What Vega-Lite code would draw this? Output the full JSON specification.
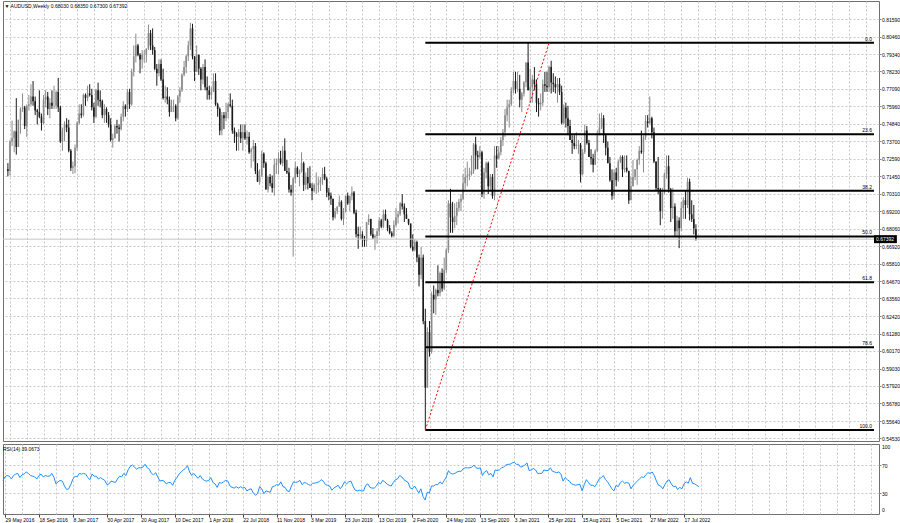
{
"$schema": "https://vega.github.io/schema/vega-lite/v6.json",
"padding": 0,
"background": "white",
"spacing": 1,
"config": {
 "view": {"stroke": "#707070", "strokeWidth": 1},
 "font": "Liberation Sans",
 "axis": {"labelFont": "Liberation Sans", "labelFontSize": 5, "labelColor": "#000000", "gridColor": "#c8c8c8", "gridDash": [2, 2], "gridWidth": 1, "domain": false, "tickColor": "#808080", "tickSize": 2, "labelPadding": 1, "labelOverlap": false, "labelFlush": false, "tickCount": 500},
 "title": {"font": "Liberation Sans", "fontSize": 5, "fontWeight": "normal", "color": "#000000"}
},
"datasets": {
 "bars": [
{"w":-1,"o":0.7190,"h":0.7230,"l":0.7145,"c":0.7180,"r":48},
{"w":0,"o":0.7180,"h":0.7380,"l":0.7150,"c":0.7370,"r":53},
{"w":1,"o":0.7370,"h":0.7505,"l":0.7340,"c":0.7390,"r":55},
{"w":2,"o":0.7390,"h":0.7440,"l":0.7300,"c":0.7435,"r":54},
{"w":3,"o":0.7435,"h":0.7650,"l":0.7285,"c":0.7335,"r":50},
{"w":4,"o":0.7335,"h":0.7510,"l":0.7335,"c":0.7510,"r":55},
{"w":5,"o":0.7510,"h":0.7590,"l":0.7420,"c":0.7580,"r":57},
{"w":6,"o":0.7580,"h":0.7680,"l":0.7560,"c":0.7590,"r":58},
{"w":7,"o":0.7590,"h":0.7600,"l":0.7450,"c":0.7470,"r":52},
{"w":8,"o":0.7470,"h":0.7610,"l":0.7400,"c":0.7600,"r":56},
{"w":9,"o":0.7600,"h":0.7670,"l":0.7570,"c":0.7610,"r":57},
{"w":10,"o":0.7610,"h":0.7740,"l":0.7600,"c":0.7660,"r":60},
{"w":11,"o":0.7660,"h":0.7760,"l":0.7600,"c":0.7630,"r":58},
{"w":12,"o":0.7630,"h":0.7660,"l":0.7540,"c":0.7570,"r":55},
{"w":13,"o":0.7570,"h":0.7580,"l":0.7480,"c":0.7560,"r":54},
{"w":14,"o":0.7560,"h":0.7700,"l":0.7520,"c":0.7530,"r":53},
{"w":15,"o":0.7530,"h":0.7550,"l":0.7440,"c":0.7490,"r":50},
{"w":16,"o":0.7490,"h":0.7670,"l":0.7480,"c":0.7640,"r":55},
{"w":17,"o":0.7640,"h":0.7700,"l":0.7590,"c":0.7660,"r":57},
{"w":18,"o":0.7660,"h":0.7690,"l":0.7540,"c":0.7580,"r":53},
{"w":19,"o":0.7580,"h":0.7650,"l":0.7520,"c":0.7620,"r":55},
{"w":20,"o":0.7620,"h":0.7700,"l":0.7580,"c":0.7600,"r":54},
{"w":21,"o":0.7600,"h":0.7730,"l":0.7580,"c":0.7600,"r":54},
{"w":22,"o":0.7600,"h":0.7700,"l":0.7580,"c":0.7690,"r":58},
{"w":23,"o":0.7690,"h":0.7780,"l":0.7560,"c":0.7590,"r":53},
{"w":24,"o":0.7590,"h":0.7600,"l":0.7360,"c":0.7370,"r":43},
{"w":25,"o":0.7370,"h":0.7460,"l":0.7310,"c":0.7440,"r":46},
{"w":26,"o":0.7440,"h":0.7500,"l":0.7370,"c":0.7480,"r":48},
{"w":27,"o":0.7480,"h":0.7520,"l":0.7430,"c":0.7460,"r":47},
{"w":28,"o":0.7460,"h":0.7510,"l":0.7300,"c":0.7310,"r":40},
{"w":29,"o":0.7310,"h":0.7320,"l":0.7180,"c":0.7200,"r":35},
{"w":30,"o":0.7200,"h":0.7240,"l":0.7160,"c":0.7210,"r":36},
{"w":31,"o":0.7210,"h":0.7350,"l":0.7165,"c":0.7330,"r":42},
{"w":32,"o":0.7330,"h":0.7500,"l":0.7310,"c":0.7490,"r":50},
{"w":33,"o":0.7490,"h":0.7610,"l":0.7480,"c":0.7550,"r":54},
{"w":34,"o":0.7550,"h":0.7610,"l":0.7520,"c":0.7540,"r":53},
{"w":35,"o":0.7540,"h":0.7680,"l":0.7530,"c":0.7670,"r":58},
{"w":36,"o":0.7670,"h":0.7680,"l":0.7600,"c":0.7650,"r":57},
{"w":37,"o":0.7650,"h":0.7730,"l":0.7630,"c":0.7680,"r":58},
{"w":38,"o":0.7680,"h":0.7740,"l":0.7660,"c":0.7670,"r":57},
{"w":39,"o":0.7670,"h":0.7710,"l":0.7570,"c":0.7590,"r":52},
{"w":40,"o":0.7590,"h":0.7620,"l":0.7490,"c":0.7530,"r":49},
{"w":41,"o":0.7530,"h":0.7710,"l":0.7520,"c":0.7700,"r":57},
{"w":42,"o":0.7700,"h":0.7750,"l":0.7600,"c":0.7640,"r":54},
{"w":43,"o":0.7640,"h":0.7700,"l":0.7590,"c":0.7630,"r":54},
{"w":44,"o":0.7630,"h":0.7640,"l":0.7520,"c":0.7540,"r":50},
{"w":45,"o":0.7540,"h":0.7610,"l":0.7490,"c":0.7580,"r":52},
{"w":46,"o":0.7580,"h":0.7590,"l":0.7490,"c":0.7540,"r":50},
{"w":47,"o":0.7540,"h":0.7560,"l":0.7460,"c":0.7480,"r":48},
{"w":48,"o":0.7480,"h":0.7520,"l":0.7370,"c":0.7380,"r":42},
{"w":49,"o":0.7380,"h":0.7420,"l":0.7330,"c":0.7390,"r":43},
{"w":50,"o":0.7390,"h":0.7480,"l":0.7390,"c":0.7470,"r":47},
{"w":51,"o":0.7470,"h":0.7510,"l":0.7420,"c":0.7460,"r":46},
{"w":52,"o":0.7460,"h":0.7480,"l":0.7370,"c":0.7450,"r":45},
{"w":53,"o":0.7450,"h":0.7550,"l":0.7440,"c":0.7530,"r":50},
{"w":54,"o":0.7530,"h":0.7630,"l":0.7500,"c":0.7600,"r":54},
{"w":55,"o":0.7600,"h":0.7610,"l":0.7530,"c":0.7580,"r":53},
{"w":56,"o":0.7580,"h":0.7710,"l":0.7560,"c":0.7690,"r":58},
{"w":57,"o":0.7690,"h":0.7710,"l":0.7580,"c":0.7610,"r":55},
{"w":58,"o":0.7610,"h":0.7840,"l":0.7600,"c":0.7820,"r":63},
{"w":59,"o":0.7820,"h":0.7990,"l":0.7790,"c":0.7920,"r":68},
{"w":60,"o":0.7920,"h":0.8066,"l":0.7880,"c":0.7990,"r":70},
{"w":61,"o":0.7990,"h":0.8000,"l":0.7920,"c":0.7930,"r":67},
{"w":62,"o":0.7930,"h":0.7940,"l":0.7810,"c":0.7900,"r":64},
{"w":63,"o":0.7900,"h":0.7960,"l":0.7840,"c":0.7930,"r":66},
{"w":64,"o":0.7930,"h":0.7960,"l":0.7880,"c":0.7930,"r":66},
{"w":65,"o":0.7930,"h":0.7970,"l":0.7880,"c":0.7970,"r":67},
{"w":66,"o":0.7970,"h":0.8125,"l":0.7960,"c":0.8070,"r":71},
{"w":67,"o":0.8070,"h":0.8090,"l":0.7960,"c":0.7990,"r":66},
{"w":68,"o":0.7990,"h":0.8100,"l":0.7930,"c":0.7960,"r":64},
{"w":69,"o":0.7960,"h":0.7980,"l":0.7830,"c":0.7840,"r":58},
{"w":70,"o":0.7840,"h":0.7870,"l":0.7730,"c":0.7810,"r":56},
{"w":71,"o":0.7810,"h":0.7900,"l":0.7790,"c":0.7870,"r":59},
{"w":72,"o":0.7870,"h":0.7900,"l":0.7760,"c":0.7770,"r":53},
{"w":73,"o":0.7770,"h":0.7840,"l":0.7640,"c":0.7650,"r":47},
{"w":74,"o":0.7650,"h":0.7730,"l":0.7620,"c":0.7660,"r":48},
{"w":75,"o":0.7660,"h":0.7720,"l":0.7610,"c":0.7640,"r":47},
{"w":76,"o":0.7640,"h":0.7660,"l":0.7530,"c":0.7560,"r":43},
{"w":77,"o":0.7560,"h":0.7640,"l":0.7560,"c":0.7600,"r":45},
{"w":78,"o":0.7600,"h":0.7640,"l":0.7560,"c":0.7600,"r":45},
{"w":79,"o":0.7600,"h":0.7610,"l":0.7500,"c":0.7520,"r":41},
{"w":80,"o":0.7520,"h":0.7670,"l":0.7510,"c":0.7660,"r":48},
{"w":81,"o":0.7660,"h":0.7720,"l":0.7620,"c":0.7700,"r":52},
{"w":82,"o":0.7700,"h":0.7810,"l":0.7690,"c":0.7800,"r":57},
{"w":83,"o":0.7800,"h":0.7890,"l":0.7790,"c":0.7850,"r":60},
{"w":84,"o":0.7850,"h":0.7930,"l":0.7810,"c":0.7920,"r":63},
{"w":85,"o":0.7920,"h":0.8020,"l":0.7890,"c":0.7990,"r":65},
{"w":86,"o":0.7990,"h":0.8136,"l":0.7960,"c":0.8100,"r":69},
{"w":87,"o":0.8100,"h":0.8130,"l":0.7900,"c":0.7920,"r":60},
{"w":88,"o":0.7920,"h":0.7920,"l":0.7760,"c":0.7820,"r":55},
{"w":89,"o":0.7820,"h":0.7990,"l":0.7820,"c":0.7930,"r":58},
{"w":90,"o":0.7930,"h":0.7930,"l":0.7800,"c":0.7840,"r":54},
{"w":91,"o":0.7840,"h":0.7850,"l":0.7700,"c":0.7770,"r":51},
{"w":92,"o":0.7770,"h":0.7870,"l":0.7740,"c":0.7850,"r":55},
{"w":93,"o":0.7850,"h":0.7900,"l":0.7700,"c":0.7720,"r":50},
{"w":94,"o":0.7720,"h":0.7790,"l":0.7640,"c":0.7700,"r":48},
{"w":95,"o":0.7700,"h":0.7730,"l":0.7640,"c":0.7670,"r":47},
{"w":96,"o":0.7670,"h":0.7720,"l":0.7640,"c":0.7690,"r":48},
{"w":97,"o":0.7690,"h":0.7810,"l":0.7690,"c":0.7760,"r":52},
{"w":98,"o":0.7760,"h":0.7810,"l":0.7600,"c":0.7610,"r":45},
{"w":99,"o":0.7610,"h":0.7620,"l":0.7530,"c":0.7580,"r":43},
{"w":100,"o":0.7580,"h":0.7590,"l":0.7410,"c":0.7440,"r":38},
{"w":101,"o":0.7440,"h":0.7560,"l":0.7410,"c":0.7540,"r":45},
{"w":102,"o":0.7540,"h":0.7560,"l":0.7450,"c":0.7520,"r":44},
{"w":103,"o":0.7520,"h":0.7620,"l":0.7500,"c":0.7560,"r":46},
{"w":104,"o":0.7560,"h":0.7620,"l":0.7520,"c":0.7610,"r":48},
{"w":105,"o":0.7610,"h":0.7680,"l":0.7590,"c":0.7600,"r":47},
{"w":106,"o":0.7600,"h":0.7640,"l":0.7420,"c":0.7440,"r":40},
{"w":107,"o":0.7440,"h":0.7460,"l":0.7360,"c":0.7420,"r":38},
{"w":108,"o":0.7420,"h":0.7430,"l":0.7310,"c":0.7400,"r":37},
{"w":109,"o":0.7400,"h":0.7450,"l":0.7310,"c":0.7430,"r":39},
{"w":110,"o":0.7430,"h":0.7480,"l":0.7360,"c":0.7390,"r":37},
{"w":111,"o":0.7390,"h":0.7480,"l":0.7310,"c":0.7430,"r":39},
{"w":112,"o":0.7430,"h":0.7480,"l":0.7380,"c":0.7390,"r":37},
{"w":113,"o":0.7390,"h":0.7440,"l":0.7350,"c":0.7400,"r":38},
{"w":114,"o":0.7400,"h":0.7430,"l":0.7290,"c":0.7300,"r":33},
{"w":115,"o":0.7300,"h":0.7330,"l":0.7200,"c":0.7320,"r":35},
{"w":116,"o":0.7320,"h":0.7380,"l":0.7240,"c":0.7340,"r":36},
{"w":117,"o":0.7340,"h":0.7360,"l":0.7160,"c":0.7180,"r":30},
{"w":118,"o":0.7180,"h":0.7230,"l":0.7110,"c":0.7110,"r":27},
{"w":119,"o":0.7110,"h":0.7190,"l":0.7090,"c":0.7150,"r":29},
{"w":120,"o":0.7150,"h":0.7310,"l":0.7140,"c":0.7290,"r":39},
{"w":121,"o":0.7290,"h":0.7300,"l":0.7200,"c":0.7230,"r":36},
{"w":122,"o":0.7230,"h":0.7240,"l":0.7060,"c":0.7060,"r":29},
{"w":123,"o":0.7060,"h":0.7150,"l":0.7040,"c":0.7140,"r":33},
{"w":124,"o":0.7140,"h":0.7160,"l":0.7080,"c":0.7100,"r":32},
{"w":125,"o":0.7100,"h":0.7150,"l":0.7040,"c":0.7070,"r":31},
{"w":126,"o":0.7070,"h":0.7260,"l":0.7020,"c":0.7220,"r":39},
{"w":127,"o":0.7220,"h":0.7260,"l":0.7160,"c":0.7230,"r":40},
{"w":128,"o":0.7230,"h":0.7300,"l":0.7160,"c":0.7260,"r":42},
{"w":129,"o":0.7260,"h":0.7310,"l":0.7220,"c":0.7230,"r":41},
{"w":130,"o":0.7230,"h":0.7340,"l":0.7210,"c":0.7310,"r":46},
{"w":131,"o":0.7310,"h":0.7390,"l":0.7180,"c":0.7180,"r":39},
{"w":132,"o":0.7180,"h":0.7250,"l":0.7160,"c":0.7170,"r":38},
{"w":133,"o":0.7170,"h":0.7200,"l":0.7040,"c":0.7060,"r":33},
{"w":134,"o":0.7060,"h":0.7090,"l":0.7020,"c":0.7040,"r":32},
{"w":135,"o":0.7040,"h":0.7140,"l":0.6626,"c":0.7130,"r":40},
{"w":136,"o":0.7130,"h":0.7240,"l":0.7100,"c":0.7200,"r":46},
{"w":137,"o":0.7200,"h":0.7210,"l":0.7140,"c":0.7160,"r":45},
{"w":138,"o":0.7160,"h":0.7190,"l":0.7080,"c":0.7180,"r":46},
{"w":139,"o":0.7180,"h":0.7300,"l":0.7170,"c":0.7230,"r":48},
{"w":140,"o":0.7230,"h":0.7240,"l":0.7050,"c":0.7090,"r":42},
{"w":141,"o":0.7090,"h":0.7170,"l":0.7060,"c":0.7140,"r":45},
{"w":142,"o":0.7140,"h":0.7200,"l":0.7060,"c":0.7100,"r":44},
{"w":143,"o":0.7100,"h":0.7210,"l":0.7070,"c":0.7070,"r":42},
{"w":144,"o":0.7070,"h":0.7100,"l":0.6990,"c":0.7050,"r":41},
{"w":145,"o":0.7050,"h":0.7100,"l":0.7040,"c":0.7090,"r":44},
{"w":146,"o":0.7090,"h":0.7170,"l":0.7030,"c":0.7090,"r":44},
{"w":147,"o":0.7090,"h":0.7140,"l":0.7040,"c":0.7100,"r":45},
{"w":148,"o":0.7100,"h":0.7140,"l":0.7050,"c":0.7120,"r":46},
{"w":149,"o":0.7120,"h":0.7200,"l":0.7090,"c":0.7160,"r":49},
{"w":150,"o":0.7160,"h":0.7206,"l":0.7120,"c":0.7130,"r":47},
{"w":151,"o":0.7130,"h":0.7140,"l":0.7010,"c":0.7040,"r":42},
{"w":152,"o":0.7040,"h":0.7070,"l":0.6990,"c":0.7020,"r":41},
{"w":153,"o":0.7020,"h":0.7040,"l":0.6960,"c":0.7000,"r":40},
{"w":154,"o":0.7000,"h":0.7000,"l":0.6860,"c":0.6880,"r":34},
{"w":155,"o":0.6880,"h":0.6940,"l":0.6870,"c":0.6920,"r":37},
{"w":156,"o":0.6920,"h":0.6950,"l":0.6900,"c":0.6950,"r":39},
{"w":157,"o":0.6950,"h":0.7020,"l":0.6950,"c":0.6980,"r":41},
{"w":158,"o":0.6980,"h":0.6990,"l":0.6860,"c":0.6870,"r":36},
{"w":159,"o":0.6870,"h":0.6940,"l":0.6830,"c":0.6920,"r":40},
{"w":160,"o":0.6920,"h":0.7020,"l":0.6910,"c":0.7020,"r":46},
{"w":161,"o":0.7020,"h":0.7040,"l":0.6960,"c":0.6970,"r":43},
{"w":162,"o":0.6970,"h":0.7020,"l":0.6920,"c":0.7020,"r":46},
{"w":163,"o":0.7020,"h":0.7080,"l":0.6990,"c":0.7040,"r":47},
{"w":164,"o":0.7040,"h":0.7050,"l":0.6900,"c":0.6910,"r":40},
{"w":165,"o":0.6910,"h":0.6930,"l":0.6750,"c":0.6770,"r":34},
{"w":166,"o":0.6770,"h":0.6820,"l":0.6677,"c":0.6760,"r":33},
{"w":167,"o":0.6760,"h":0.6820,"l":0.6740,"c":0.6770,"r":34},
{"w":168,"o":0.6770,"h":0.6790,"l":0.6690,"c":0.6740,"r":33},
{"w":169,"o":0.6740,"h":0.6760,"l":0.6690,"c":0.6730,"r":33},
{"w":170,"o":0.6730,"h":0.6850,"l":0.6690,"c":0.6850,"r":41},
{"w":171,"o":0.6850,"h":0.6900,"l":0.6830,"c":0.6870,"r":43},
{"w":172,"o":0.6870,"h":0.6870,"l":0.6760,"c":0.6770,"r":38},
{"w":173,"o":0.6770,"h":0.6810,"l":0.6740,"c":0.6750,"r":37},
{"w":174,"o":0.6750,"h":0.6770,"l":0.6670,"c":0.6760,"r":37},
{"w":175,"o":0.6760,"h":0.6810,"l":0.6710,"c":0.6790,"r":40},
{"w":176,"o":0.6790,"h":0.6880,"l":0.6760,"c":0.6860,"r":45},
{"w":177,"o":0.6860,"h":0.6870,"l":0.6810,"c":0.6820,"r":43},
{"w":178,"o":0.6820,"h":0.6930,"l":0.6810,"c":0.6900,"r":48},
{"w":179,"o":0.6900,"h":0.6930,"l":0.6860,"c":0.6860,"r":46},
{"w":180,"o":0.6860,"h":0.6870,"l":0.6790,"c":0.6810,"r":43},
{"w":181,"o":0.6810,"h":0.6830,"l":0.6770,"c":0.6780,"r":41},
{"w":182,"o":0.6780,"h":0.6790,"l":0.6750,"c":0.6760,"r":40},
{"w":183,"o":0.6760,"h":0.6860,"l":0.6750,"c":0.6830,"r":45},
{"w":184,"o":0.6830,"h":0.6940,"l":0.6820,"c":0.6880,"r":49},
{"w":185,"o":0.6880,"h":0.6920,"l":0.6840,"c":0.6900,"r":50},
{"w":186,"o":0.6900,"h":0.6980,"l":0.6890,"c":0.6970,"r":55},
{"w":187,"o":0.6970,"h":0.7030,"l":0.6930,"c":0.6950,"r":53},
{"w":188,"o":0.6950,"h":0.6970,"l":0.6850,"c":0.6900,"r":49},
{"w":189,"o":0.6900,"h":0.6940,"l":0.6870,"c":0.6870,"r":47},
{"w":190,"o":0.6870,"h":0.6870,"l":0.6830,"c":0.6840,"r":45},
{"w":191,"o":0.6840,"h":0.6840,"l":0.6680,"c":0.6690,"r":37},
{"w":192,"o":0.6690,"h":0.6770,"l":0.6660,"c":0.6670,"r":36},
{"w":193,"o":0.6670,"h":0.6740,"l":0.6660,"c":0.6720,"r":40},
{"w":194,"o":0.6720,"h":0.6730,"l":0.6590,"c":0.6620,"r":35},
{"w":195,"o":0.6620,"h":0.6640,"l":0.6434,"c":0.6510,"r":30},
{"w":196,"o":0.6510,"h":0.6690,"l":0.6480,"c":0.6620,"r":36},
{"w":197,"o":0.6620,"h":0.6640,"l":0.6190,"c":0.6210,"r":25},
{"w":198,"o":0.6210,"h":0.6290,"l":0.5506,"c":0.5780,"r":20},
{"w":199,"o":0.5780,"h":0.6170,"l":0.5780,"c":0.6140,"r":31},
{"w":200,"o":0.6140,"h":0.6210,"l":0.5980,"c":0.6010,"r":30},
{"w":201,"o":0.6010,"h":0.6400,"l":0.6000,"c":0.6380,"r":40},
{"w":202,"o":0.6380,"h":0.6440,"l":0.6260,"c":0.6350,"r":40},
{"w":203,"o":0.6350,"h":0.6420,"l":0.6250,"c":0.6410,"r":42},
{"w":204,"o":0.6410,"h":0.6570,"l":0.6370,"c":0.6390,"r":42},
{"w":205,"o":0.6390,"h":0.6530,"l":0.6370,"c":0.6520,"r":46},
{"w":206,"o":0.6520,"h":0.6550,"l":0.6400,"c":0.6420,"r":43},
{"w":207,"o":0.6420,"h":0.6620,"l":0.6410,"c":0.6540,"r":48},
{"w":208,"o":0.6540,"h":0.6680,"l":0.6520,"c":0.6670,"r":53},
{"w":209,"o":0.6670,"h":0.6990,"l":0.6650,"c":0.6970,"r":62},
{"w":210,"o":0.6970,"h":0.7064,"l":0.6780,"c":0.6880,"r":58},
{"w":211,"o":0.6880,"h":0.6980,"l":0.6780,"c":0.6850,"r":57},
{"w":212,"o":0.6850,"h":0.6970,"l":0.6810,"c":0.6890,"r":58},
{"w":213,"o":0.6890,"h":0.6980,"l":0.6830,"c":0.6940,"r":60},
{"w":214,"o":0.6940,"h":0.7000,"l":0.6920,"c":0.6980,"r":61},
{"w":215,"o":0.6980,"h":0.7030,"l":0.6920,"c":0.7000,"r":61},
{"w":216,"o":0.7000,"h":0.7160,"l":0.6990,"c":0.7100,"r":65},
{"w":217,"o":0.7100,"h":0.7200,"l":0.7060,"c":0.7140,"r":66},
{"w":218,"o":0.7140,"h":0.7240,"l":0.7080,"c":0.7150,"r":66},
{"w":219,"o":0.7150,"h":0.7200,"l":0.7120,"c":0.7160,"r":66},
{"w":220,"o":0.7160,"h":0.7280,"l":0.7150,"c":0.7180,"r":67},
{"w":221,"o":0.7180,"h":0.7360,"l":0.7160,"c":0.7350,"r":70},
{"w":222,"o":0.7350,"h":0.7400,"l":0.7190,"c":0.7280,"r":66},
{"w":223,"o":0.7280,"h":0.7310,"l":0.7190,"c":0.7270,"r":65},
{"w":224,"o":0.7270,"h":0.7340,"l":0.7260,"c":0.7300,"r":66},
{"w":225,"o":0.7300,"h":0.7310,"l":0.7010,"c":0.7030,"r":55},
{"w":226,"o":0.7030,"h":0.7200,"l":0.7000,"c":0.7170,"r":60},
{"w":227,"o":0.7170,"h":0.7240,"l":0.7130,"c":0.7230,"r":62},
{"w":228,"o":0.7230,"h":0.7240,"l":0.7030,"c":0.7080,"r":56},
{"w":229,"o":0.7080,"h":0.7160,"l":0.7050,"c":0.7140,"r":58},
{"w":230,"o":0.7140,"h":0.7160,"l":0.7000,"c":0.7020,"r":53},
{"w":231,"o":0.7020,"h":0.7340,"l":0.6990,"c":0.7280,"r":63},
{"w":232,"o":0.7280,"h":0.7340,"l":0.7200,"c":0.7260,"r":62},
{"w":233,"o":0.7260,"h":0.7340,"l":0.7260,"c":0.7300,"r":63},
{"w":234,"o":0.7300,"h":0.7400,"l":0.7280,"c":0.7380,"r":66},
{"w":235,"o":0.7380,"h":0.7450,"l":0.7340,"c":0.7430,"r":67},
{"w":236,"o":0.7430,"h":0.7580,"l":0.7400,"c":0.7540,"r":70},
{"w":237,"o":0.7540,"h":0.7640,"l":0.7500,"c":0.7590,"r":71},
{"w":238,"o":0.7590,"h":0.7640,"l":0.7460,"c":0.7610,"r":71},
{"w":239,"o":0.7610,"h":0.7720,"l":0.7600,"c":0.7700,"r":73},
{"w":240,"o":0.7700,"h":0.7820,"l":0.7680,"c":0.7760,"r":74},
{"w":241,"o":0.7760,"h":0.7820,"l":0.7680,"c":0.7710,"r":71},
{"w":242,"o":0.7710,"h":0.7820,"l":0.7690,"c":0.7710,"r":71},
{"w":243,"o":0.7710,"h":0.7800,"l":0.7590,"c":0.7640,"r":67},
{"w":244,"o":0.7640,"h":0.7690,"l":0.7560,"c":0.7680,"r":68},
{"w":245,"o":0.7680,"h":0.7760,"l":0.7660,"c":0.7750,"r":70},
{"w":246,"o":0.7750,"h":0.7880,"l":0.7720,"c":0.7880,"r":73},
{"w":247,"o":0.7880,"h":0.8007,"l":0.7700,"c":0.7700,"r":62},
{"w":248,"o":0.7700,"h":0.7840,"l":0.7620,"c":0.7720,"r":63},
{"w":249,"o":0.7720,"h":0.7800,"l":0.7620,"c":0.7770,"r":65},
{"w":250,"o":0.7770,"h":0.7850,"l":0.7700,"c":0.7740,"r":63},
{"w":251,"o":0.7740,"h":0.7770,"l":0.7560,"c":0.7620,"r":58},
{"w":252,"o":0.7620,"h":0.7650,"l":0.7530,"c":0.7610,"r":58},
{"w":253,"o":0.7610,"h":0.7680,"l":0.7570,"c":0.7620,"r":58},
{"w":254,"o":0.7620,"h":0.7770,"l":0.7600,"c":0.7740,"r":63},
{"w":255,"o":0.7740,"h":0.7820,"l":0.7690,"c":0.7730,"r":62},
{"w":256,"o":0.7730,"h":0.7820,"l":0.7690,"c":0.7720,"r":62},
{"w":257,"o":0.7720,"h":0.7860,"l":0.7690,"c":0.7850,"r":66},
{"w":258,"o":0.7850,"h":0.7891,"l":0.7680,"c":0.7750,"r":61},
{"w":259,"o":0.7750,"h":0.7810,"l":0.7690,"c":0.7740,"r":60},
{"w":260,"o":0.7740,"h":0.7790,"l":0.7680,"c":0.7720,"r":59},
{"w":261,"o":0.7720,"h":0.7780,"l":0.7620,"c":0.7740,"r":60},
{"w":262,"o":0.7740,"h":0.7780,"l":0.7670,"c":0.7690,"r":57},
{"w":263,"o":0.7690,"h":0.7730,"l":0.7480,"c":0.7490,"r":47},
{"w":264,"o":0.7490,"h":0.7610,"l":0.7480,"c":0.7590,"r":52},
{"w":265,"o":0.7590,"h":0.7620,"l":0.7460,"c":0.7520,"r":49},
{"w":266,"o":0.7520,"h":0.7600,"l":0.7410,"c":0.7470,"r":47},
{"w":267,"o":0.7470,"h":0.7510,"l":0.7380,"c":0.7380,"r":43},
{"w":268,"o":0.7380,"h":0.7410,"l":0.7290,"c":0.7360,"r":42},
{"w":269,"o":0.7360,"h":0.7410,"l":0.7320,"c":0.7340,"r":41},
{"w":270,"o":0.7340,"h":0.7430,"l":0.7320,"c":0.7350,"r":42},
{"w":271,"o":0.7350,"h":0.7380,"l":0.7290,"c":0.7350,"r":42},
{"w":272,"o":0.7350,"h":0.7360,"l":0.7106,"c":0.7160,"r":33},
{"w":273,"o":0.7160,"h":0.7320,"l":0.7150,"c":0.7300,"r":42},
{"w":274,"o":0.7300,"h":0.7480,"l":0.7290,"c":0.7440,"r":49},
{"w":275,"o":0.7440,"h":0.7470,"l":0.7350,"c":0.7360,"r":45},
{"w":276,"o":0.7360,"h":0.7380,"l":0.7270,"c":0.7270,"r":41},
{"w":277,"o":0.7270,"h":0.7320,"l":0.7220,"c":0.7260,"r":41},
{"w":278,"o":0.7260,"h":0.7290,"l":0.7170,"c":0.7220,"r":39},
{"w":279,"o":0.7220,"h":0.7320,"l":0.7220,"c":0.7310,"r":44},
{"w":280,"o":0.7310,"h":0.7440,"l":0.7300,"c":0.7420,"r":50},
{"w":281,"o":0.7420,"h":0.7550,"l":0.7410,"c":0.7460,"r":52},
{"w":282,"o":0.7460,"h":0.7556,"l":0.7450,"c":0.7520,"r":55},
{"w":283,"o":0.7520,"h":0.7540,"l":0.7360,"c":0.7410,"r":49},
{"w":284,"o":0.7410,"h":0.7420,"l":0.7280,"c":0.7330,"r":46},
{"w":285,"o":0.7330,"h":0.7370,"l":0.7230,"c":0.7230,"r":41},
{"w":286,"o":0.7230,"h":0.7270,"l":0.7110,"c":0.7120,"r":36},
{"w":287,"o":0.7120,"h":0.7190,"l":0.6993,"c":0.7020,"r":33},
{"w":288,"o":0.7020,"h":0.7190,"l":0.7000,"c":0.7170,"r":41},
{"w":289,"o":0.7170,"h":0.7200,"l":0.7080,"c":0.7120,"r":39},
{"w":290,"o":0.7120,"h":0.7250,"l":0.7110,"c":0.7240,"r":45},
{"w":291,"o":0.7240,"h":0.7280,"l":0.7230,"c":0.7270,"r":47},
{"w":292,"o":0.7270,"h":0.7280,"l":0.7140,"c":0.7190,"r":44},
{"w":293,"o":0.7190,"h":0.7280,"l":0.7170,"c":0.7200,"r":45},
{"w":294,"o":0.7200,"h":0.7280,"l":0.7170,"c":0.7180,"r":44},
{"w":295,"o":0.7180,"h":0.7180,"l":0.6967,"c":0.6990,"r":36},
{"w":296,"o":0.6990,"h":0.7140,"l":0.6990,"c":0.7080,"r":41},
{"w":297,"o":0.7080,"h":0.7250,"l":0.7080,"c":0.7140,"r":44},
{"w":298,"o":0.7140,"h":0.7190,"l":0.7120,"c":0.7190,"r":47},
{"w":299,"o":0.7190,"h":0.7260,"l":0.7090,"c":0.7250,"r":50},
{"w":300,"o":0.7250,"h":0.7340,"l":0.7220,"c":0.7310,"r":53},
{"w":301,"o":0.7310,"h":0.7440,"l":0.7290,"c":0.7300,"r":52},
{"w":302,"o":0.7300,"h":0.7410,"l":0.7170,"c":0.7400,"r":56},
{"w":303,"o":0.7400,"h":0.7540,"l":0.7380,"c":0.7500,"r":59},
{"w":304,"o":0.7500,"h":0.7540,"l":0.7460,"c":0.7490,"r":58},
{"w":305,"o":0.7490,"h":0.7661,"l":0.7480,"c":0.7520,"r":60},
{"w":306,"o":0.7520,"h":0.7530,"l":0.7390,"c":0.7430,"r":55},
{"w":307,"o":0.7430,"h":0.7460,"l":0.7230,"c":0.7240,"r":47},
{"w":308,"o":0.7240,"h":0.7240,"l":0.7050,"c":0.7070,"r":41},
{"w":309,"o":0.7070,"h":0.7270,"l":0.7030,"c":0.7060,"r":40},
{"w":310,"o":0.7060,"h":0.7070,"l":0.6829,"c":0.6920,"r":36},
{"w":311,"o":0.6920,"h":0.7070,"l":0.6870,"c":0.7040,"r":42},
{"w":312,"o":0.7040,"h":0.7170,"l":0.7030,"c":0.7160,"r":47},
{"w":313,"o":0.7160,"h":0.7280,"l":0.7130,"c":0.7210,"r":49},
{"w":314,"o":0.7210,"h":0.7280,"l":0.7040,"c":0.7060,"r":43},
{"w":315,"o":0.7060,"h":0.7070,"l":0.6850,"c":0.6940,"r":39},
{"w":316,"o":0.6940,"h":0.7070,"l":0.6870,"c":0.6950,"r":40},
{"w":317,"o":0.6950,"h":0.6970,"l":0.6760,"c":0.6790,"r":35},
{"w":318,"o":0.6790,"h":0.6890,"l":0.6760,"c":0.6860,"r":38},
{"w":319,"o":0.6860,"h":0.6880,"l":0.6681,"c":0.6810,"r":36},
{"w":320,"o":0.6810,"h":0.6980,"l":0.6790,"c":0.6940,"r":43},
{"w":321,"o":0.6940,"h":0.7010,"l":0.6870,"c":0.6990,"r":46},
{"w":322,"o":0.6990,"h":0.7050,"l":0.6870,"c":0.6960,"r":44},
{"w":323,"o":0.6960,"h":0.7136,"l":0.6940,"c":0.7110,"r":52},
{"w":324,"o":0.7110,"h":0.7130,"l":0.6860,"c":0.6900,"r":44},
{"w":325,"o":0.6900,"h":0.6990,"l":0.6850,"c":0.6870,"r":43},
{"w":326,"o":0.6870,"h":0.6960,"l":0.6770,"c":0.6810,"r":41},
{"w":327,"o":0.6803,"h":0.6835,"l":0.6730,"c":0.6739,"r":39.07}
 ],
 "fib": [
  {"k":"0.0","p":0.8007},
  {"k":"23.6","p":0.7417},
  {"k":"38.2","p":0.7052},
  {"k":"50.0","p":0.6757},
  {"k":"61.8","p":0.6461},
  {"k":"78.6","p":0.6041},
  {"k":"100.0","p":0.5506}
 ],
 "trend": [{"w":198,"p":0.5506},{"w":257,"p":0.8007}],
 "last": [{"p":0.67392}]
},
"vconcat": [
 {
  "width": 876,
  "height": 440,
  "title": {"text": "▼ AUDUSD,Weekly  0.68030 0.68350 0.67300 0.67392", "anchor": "start", "orient": "top", "offset": -8, "dx": 2},
  "layer": [
   {
    "data": {"name": "bars"},
    "mark": {"type": "rule", "strokeWidth": 1},
    "encoding": {
     "x": {"field": "w", "type": "quantitative", "scale": {"domain": [-0.95, 411.9], "nice": false, "zero": false},
       "axis": {"title": null, "tickCount": 500, "values": [0,8,16,24,32,40,48,56,64,72,80,88,96,104,112,120,128,136,144,152,160,168,176,184,192,200,208,216,224,232,240,248,256,264,272,280,288,296,304,312,320,328,336,344,352,360,368,376,384,392,400,408], "labels": false, "ticks": false, "grid": true}},
     "y": {"field": "l", "type": "quantitative", "scale": {"domain": [0.54357, 0.8277], "nice": false, "zero": false},
       "axis": {"title": null, "orient": "right", "tickCount": 500, "values": [0.8159,0.8046,0.7934,0.7823,0.7709,0.7596,0.7484,0.737,0.7259,0.7145,0.7031,0.692,0.6806,0.6692,0.6581,0.6467,0.6356,0.6242,0.6128,0.6017,0.5903,0.5792,0.5678,0.5564,0.5453], "format": ".5f", "grid": true, "labelPadding": 0.5}},
     "y2": {"field": "h"},
     "color": {"condition": {"test": "datum.c >= datum.o", "value": "#8a8a8a"}, "value": "#1a1a1a"}
    }
   },
   {
    "data": {"name": "bars"},
    "mark": {"type": "bar", "size": 1.6},
    "encoding": {
     "x": {"field": "w", "type": "quantitative"},
     "y": {"field": "o", "type": "quantitative"},
     "y2": {"field": "c"},
     "color": {"condition": {"test": "datum.c >= datum.o", "value": "#8a8a8a"}, "value": "#1a1a1a"}
    }
   },
   {
    "data": {"name": "last"},
    "mark": {"type": "rule", "color": "#c4c4c4", "strokeWidth": 1},
    "encoding": {"y": {"field": "p", "type": "quantitative"}}
   },
   {
    "data": {"name": "fib"},
    "mark": {"type": "rule", "color": "#000000", "strokeWidth": 2},
    "encoding": {
     "x": {"datum": 198, "type": "quantitative"},
     "x2": {"datum": 411.9},
     "y": {"field": "p", "type": "quantitative"}
    }
   },
   {
    "data": {"name": "fib"},
    "mark": {"type": "text", "align": "right", "baseline": "bottom", "dx": -2, "dy": -1, "fontSize": 5, "color": "#000000"},
    "encoding": {
     "x": {"datum": 411.9, "type": "quantitative"},
     "y": {"field": "p", "type": "quantitative"},
     "text": {"field": "k"}
    }
   },
   {
    "data": {"name": "trend"},
    "mark": {"type": "line", "color": "#ff0000", "strokeWidth": 1, "strokeDash": [2, 2]},
    "encoding": {
     "x": {"field": "w", "type": "quantitative"},
     "y": {"field": "p", "type": "quantitative"}
    }
   },
   {
    "data": {"name": "last"},
    "mark": {"type": "rule", "color": "#000000", "strokeWidth": 8, "clip": false},
    "encoding": {
     "x": {"datum": 411.9, "type": "quantitative"},
     "x2": {"datum": 422.8},
     "y": {"field": "p", "type": "quantitative"}
    }
   },
   {
    "data": {"name": "last"},
    "mark": {"type": "text", "align": "left", "baseline": "middle", "dx": 2, "fontSize": 5, "color": "#ffffff", "clip": false},
    "encoding": {
     "x": {"datum": 411.9, "type": "quantitative"},
     "y": {"field": "p", "type": "quantitative"},
     "text": {"field": "p", "format": ".5f"}
    }
   }
  ]
 },
 {
  "width": 876,
  "height": 70,
  "title": {"text": "RSI(14) 39.0673", "anchor": "start", "orient": "top", "offset": -8, "dx": 2},
  "layer": [
   {
    "data": {"name": "bars"},
    "mark": {"type": "line", "color": "#1e90ff", "strokeWidth": 1},
    "encoding": {
     "x": {"field": "w", "type": "quantitative", "scale": {"domain": [-0.95, 411.9], "nice": false, "zero": false},
       "axis": {"title": null, "tickCount": 500, "values": [0,8,16,24,32,40,48,56,64,72,80,88,96,104,112,120,128,136,144,152,160,168,176,184,192,200,208,216,224,232,240,248,256,264,272,280,288,296,304,312,320,328,336,344,352,360,368,376,384,392,400,408],
         "labelExpr": "(datum.value % 16 === 0 && datum.value <= 327) ? utcFormat(1464480000000 + datum.value * 604800000, '%-d %b %Y') : ''",
         "labelAlign": "left", "labelDx": 1, "labelPadding": 0, "tickSize": 3, "tickColor": "#404040",
         "tickOpacity": {"condition": {"test": "datum.value % 16 === 0 && datum.value <= 327", "value": 1}, "value": 0},
         "grid": true}},
     "y": {"field": "r", "type": "quantitative", "scale": {"domain": [0, 100], "nice": false, "zero": false},
       "axis": {"title": null, "orient": "right", "tickCount": 500, "values": [30, 70], "format": "d", "labelPadding": 0.5, "grid": true}}
    }
   },
   {
    "data": {"values": [{}]},
    "mark": {"type": "text", "align": "left", "baseline": "top", "dx": 3, "dy": 1, "fontSize": 5, "color": "#000000", "clip": false},
    "encoding": {
     "x": {"datum": 411.9, "type": "quantitative"},
     "y": {"datum": 100, "type": "quantitative"},
     "text": {"value": "100"}
    }
   },
   {
    "data": {"values": [{}]},
    "mark": {"type": "text", "align": "left", "baseline": "bottom", "dx": 3, "dy": -1, "fontSize": 5, "color": "#000000", "clip": false},
    "encoding": {
     "x": {"datum": 411.9, "type": "quantitative"},
     "y": {"datum": 0, "type": "quantitative"},
     "text": {"value": "0"}
    }
   }
  ]
 }
]
}
